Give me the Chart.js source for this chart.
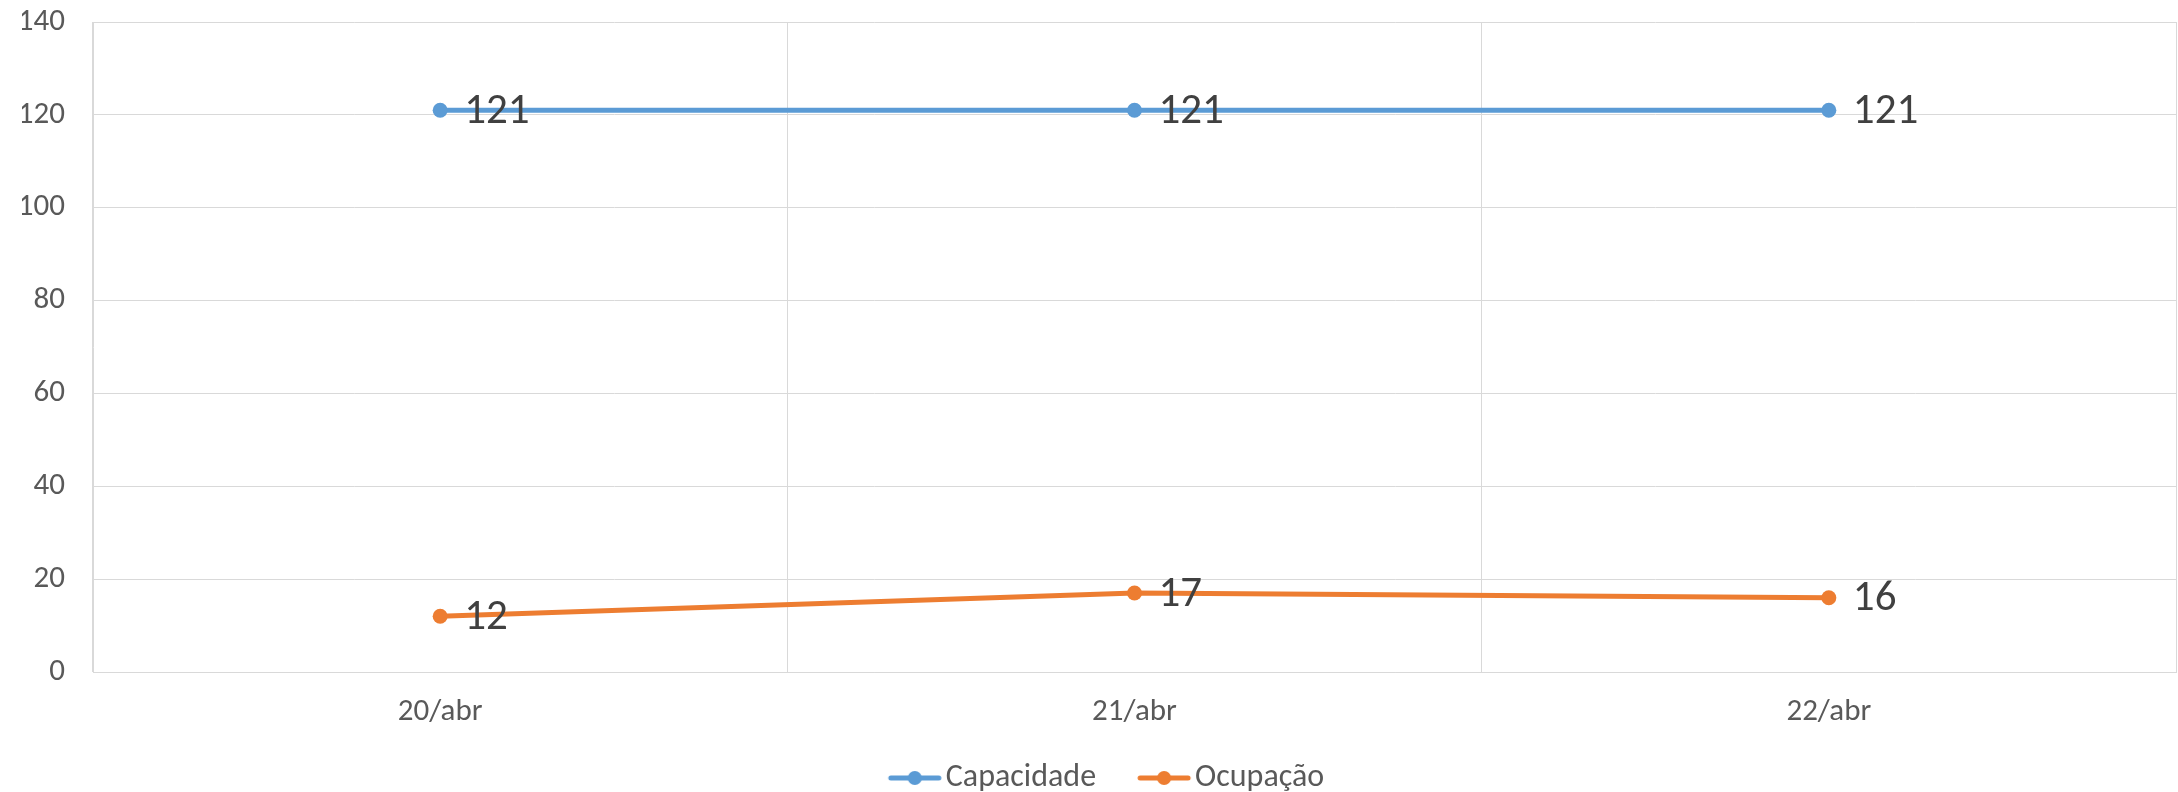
<!DOCTYPE html>
<html>
<head>
<meta charset="utf-8">
<title>Capacidade x Ocupação</title>
<script src="https://cdn.jsdelivr.net/npm/chart.js@4"></script>
<style>
    html, body { margin: 0; padding: 0; background: #ffffff; }
    canvas { display: block; }
</style>
</head>
<body>
<canvas id="ocupacaoChart" width="2178" height="792"></canvas>
<script>
// ==========================================
// DATA
// ==========================================
const dias = ['20/abr', '21/abr', '22/abr'];
const capacidade = [121, 121, 121];
const ocupacao = [12, 17, 16];
const yTicks = [0, 20, 40, 60, 80, 100, 120, 140];

const AZUL = '#5B9BD5';
const LARANJA = '#ED7D31';
const GRADE = '#D9D9D9';
const FONTE = 'Carlito, Calibri, "Liberation Sans", Arial, sans-serif';

// legend marker: short line with a dot in the middle (Excel style)
// drawn off-centre in a wider canvas so the gap to the text stays small
function makeMarker(color) {
    const c = document.createElement('canvas');
    c.width = 100;
    c.height = 16;
    const g = c.getContext('2d');
    g.strokeStyle = color;
    g.lineWidth = 5;
    g.lineCap = 'round';
    g.beginPath();
    g.moveTo(39, 8);
    g.lineTo(87, 8);
    g.stroke();
    g.fillStyle = color;
    g.beginPath();
    g.arc(63, 8, 7, 0, Math.PI * 2);
    g.fill();
    return c;
}

// value labels to the right of every point
const valueLabels = {
    id: 'valueLabels',
    afterDatasetsDraw(chart) {
        const ctx = chart.ctx;
        ctx.save();
        ctx.font = '43px ' + FONTE;
        ctx.fillStyle = '#404040';
        ctx.textAlign = 'left';
        ctx.textBaseline = 'middle';
        chart.data.datasets.forEach((ds, i) => {
            chart.getDatasetMeta(i).data.forEach((pt, j) => {
                ctx.fillText(String(ds.data[j]), pt.x + 24, pt.y + 2);
            });
        });
        ctx.restore();
    }
};

// ==========================================
// CHART
// ==========================================
const ctx = document.getElementById('ocupacaoChart').getContext('2d');
new Chart(ctx, {
    type: 'line',
    data: {
        labels: dias,
        datasets: [
            {
                label: 'Capacidade',
                data: capacidade,
                borderColor: AZUL,
                backgroundColor: AZUL,
                borderWidth: 5,
                pointRadius: 7.5,
                pointHoverRadius: 7.5,
                pointBorderWidth: 0,
                tension: 0
            },
            {
                label: 'Ocupação',
                data: ocupacao,
                borderColor: LARANJA,
                backgroundColor: LARANJA,
                borderWidth: 5,
                pointRadius: 7.5,
                pointHoverRadius: 7.5,
                pointBorderWidth: 0,
                tension: 0
            }
        ]
    },
    options: {
        responsive: false,
        animation: false,
        devicePixelRatio: 1,
        layout: {
            autoPadding: false, // otherwise the point size eats into the right edge
            padding: { top: 22, right: 2, left: 22, bottom: -12 }
        },
        plugins: {
            tooltip: { enabled: false },
            legend: {
                position: 'bottom',
                labels: {
                    usePointStyle: true,
                    pointStyleWidth: 56,
                    padding: 27,
                    color: '#595959',
                    font: { family: FONTE, size: 32 },
                    generateLabels(chart) {
                        return chart.data.datasets.map((ds, i) => ({
                            text: ds.label,
                            fillStyle: ds.borderColor,
                            strokeStyle: ds.borderColor,
                            lineWidth: 0,
                            pointStyle: makeMarker(ds.borderColor),
                            fontColor: '#595959',
                            hidden: false,
                            datasetIndex: i
                        }));
                    }
                }
            }
        },
        scales: {
            x: {
                offset: true,
                grid: { offset: true, color: GRADE, lineWidth: 1, drawTicks: false },
                border: { color: GRADE },
                ticks: {
                    color: '#595959',
                    padding: 22,
                    font: { family: FONTE, size: 31 }
                },
                afterFit(scale) { scale.height = 63; }
            },
            y: {
                min: 0,
                max: 140,
                // invisible tick marks give the gap to the labels
                // (ticks.padding would also push the plot top down)
                grid: { color: GRADE, lineWidth: 1, drawTicks: true, tickLength: 28, tickColor: 'rgba(0,0,0,0)' },
                border: { color: GRADE },
                afterBuildTicks(scale) {
                    scale.ticks = yTicks.map(v => ({ value: v }));
                },
                ticks: {
                    color: '#595959',
                    padding: 0,
                    font: { family: FONTE, size: 31 }
                },
                afterFit(scale) { scale.width = 71; }
            }
        }
    },
    plugins: [valueLabels]
});
</script>
</body>
</html>
